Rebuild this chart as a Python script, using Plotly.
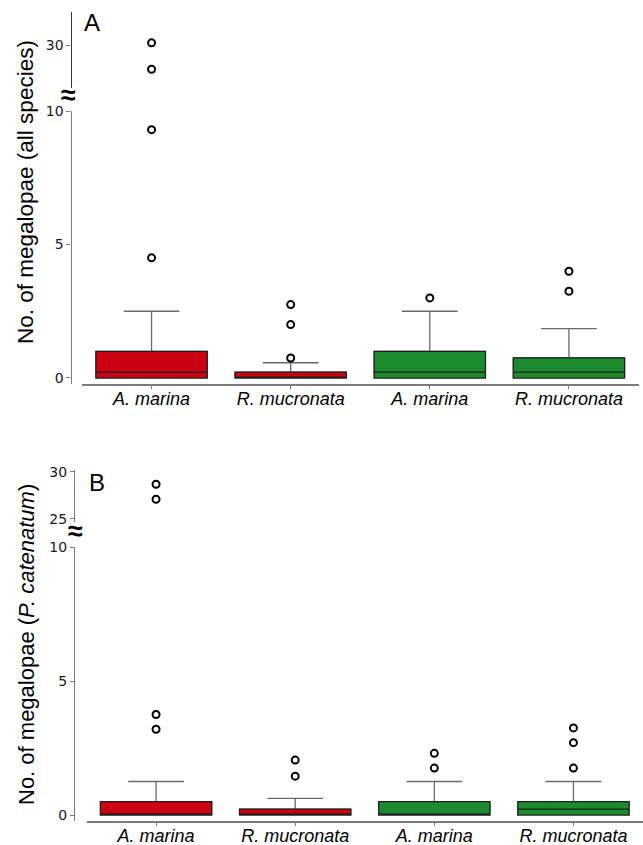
import plotly.graph_objects as go

W, H = 643, 845

categories = ["A. marina", "R. mucronata", "A. marina", "R. mucronata"]
colors = ["#cc0010", "#cc0010", "#1c8a2e", "#1c8a2e"]

# Panel A: all species
a_q1 = [0, 0, 0, 0]
a_median = [0.22, 0.02, 0.22, 0.22]
a_q3 = [1.0, 0.22, 1.0, 0.75]
a_low = [0, 0, 0, 0]
a_up = [2.5, 0.57, 2.5, 1.85]
a_out_low = [[4.5, 9.3], [0.75, 2.0, 2.75], [3.0], [3.25, 4.0]]
a_out_high = [[30.2, 27.8], [], [], []]

# Panel B: P. catenatum
b_q1 = [0, 0, 0, 0]
b_median = [0.02, 0.02, 0.02, 0.22]
b_q3 = [0.5, 0.22, 0.5, 0.5]
b_low = [0, 0, 0, 0]
b_up = [1.25, 0.62, 1.25, 1.25]
b_out_low = [[3.2, 3.75], [1.45, 2.05], [1.75, 2.3], [1.75, 2.7, 3.25]]
b_out_high = [[28.7, 27.1], [], [], []]


def py(px):
    return 1 - px / H


def pxx(px):
    return px / W


fig = go.Figure()


def add_panel(q1, med, q3, low, up, out_low, out_high, xa, ya_low, ya_high):
    for i in range(len(categories)):
        # whiskers (grey)
        fig.add_trace(go.Box(
            x=[i], q1=[q1[i]], median=[med[i]], q3=[q3[i]],
            lowerfence=[low[i]], upperfence=[up[i]],
            width=0.8, whiskerwidth=0.5, fillcolor=colors[i],
            line=dict(color="#6a6a6a", width=1.3),
            boxpoints=False, showlegend=False, hoverinfo="skip",
            xaxis=xa, yaxis=ya_low))
        # box body (dark outline)
        fig.add_trace(go.Box(
            x=[i], q1=[q1[i]], median=[med[i]], q3=[q3[i]],
            lowerfence=[q1[i]], upperfence=[q3[i]],
            width=0.8, whiskerwidth=0, fillcolor=colors[i],
            line=dict(color="#1e1e1e", width=1.2),
            boxpoints=False, showlegend=False, hoverinfo="skip",
            xaxis=xa, yaxis=ya_low))
        if out_low[i]:
            fig.add_trace(go.Scatter(
                x=[i] * len(out_low[i]), y=out_low[i], mode="markers",
                marker=dict(symbol="circle-open", size=7, color="black",
                            line=dict(width=2, color="black")),
                showlegend=False, hoverinfo="skip", cliponaxis=False,
                xaxis=xa, yaxis=ya_low))
        if out_high[i]:
            fig.add_trace(go.Scatter(
                x=[i] * len(out_high[i]), y=out_high[i], mode="markers",
                marker=dict(symbol="circle-open", size=7, color="black",
                            line=dict(width=2, color="black")),
                showlegend=False, hoverinfo="skip", cliponaxis=False,
                xaxis=xa, yaxis=ya_high))


add_panel(a_q1, a_median, a_q3, a_low, a_up, a_out_low, a_out_high, "x", "y", "y2")
add_panel(b_q1, b_median, b_q3, b_low, b_up, b_out_low, b_out_high, "x2", "y3", "y4")

tickfont = dict(family="DejaVu Sans, Verdana, sans-serif", size=14, color="#1a1a1a")
xtickfont = dict(family="Liberation Sans, Arial, sans-serif", size=18, color="black")
ticktext = ["<i>%s</i>" % c for c in categories]

common_y = dict(showgrid=False, zeroline=False, showline=True, linecolor="#7a7a7a",
                linewidth=1.2, ticks="outside", ticklen=4, tickcolor="#7a7a7a",
                tickfont=tickfont, anchor="free", automargin=False)
common_x = dict(showgrid=False, zeroline=False, showline=True, linecolor="#7a7a7a",
                linewidth=1.5, ticks="outside", ticklen=3, tickcolor="#7a7a7a",
                tickfont=xtickfont, tickvals=[0, 1, 2, 3], ticktext=ticktext,
                range=[-0.5, 3.5], automargin=False, ticklabelstandoff=-5)

fig.update_layout(
    width=W, height=H,
    margin=dict(l=0, r=0, t=0, b=0),
    plot_bgcolor="white", paper_bgcolor="white",
    boxmode="overlay",
    xaxis=dict(common_x, domain=[pxx(82), pxx(638.5)], anchor="y"),
    xaxis2=dict(common_x, domain=[pxx(86.5), 1.0], anchor="y3"),
    yaxis=dict(common_y, domain=[py(384), py(111)], range=[-0.225, 10],
               tickvals=[0, 5, 10], position=pxx(70.5)),
    yaxis2=dict(common_y, domain=[py(88), py(12)], range=[26.1, 33],
                tickvals=[30], position=pxx(70.5), linecolor="#333333"),
    yaxis3=dict(common_y, domain=[py(821), py(547)], range=[-0.224, 10],
                tickvals=[0, 5, 10], position=pxx(74)),
    yaxis4=dict(common_y, domain=[py(522), py(470)], range=[24.68, 30.21],
                tickvals=[25, 30], position=pxx(74)),
)

ann_font = dict(family="Liberation Sans, Arial, sans-serif", color="black")


def ann(x, y, text, size, angle=0):
    fig.add_annotation(x=pxx(x), y=py(y), xref="paper", yref="paper", text=text,
                       showarrow=False, xanchor="center", yanchor="middle",
                       textangle=angle, font=dict(ann_font, size=size))


ann(68, 95, "<b>≈</b>", 27)
ann(75, 531, "<b>≈</b>", 27)
ann(92, 22, "A", 24)
ann(97, 482, "B", 24)
ann(26, 192, "No. of megalopae (all species)", 22.5, -90)
ann(26, 645, "No. of megalopae (<i>P. catenatum</i>)", 22, -90)

fig.write_html("out.html", config={"displayModeBar": False},
               post_script="document.body.style.margin='0px';")
